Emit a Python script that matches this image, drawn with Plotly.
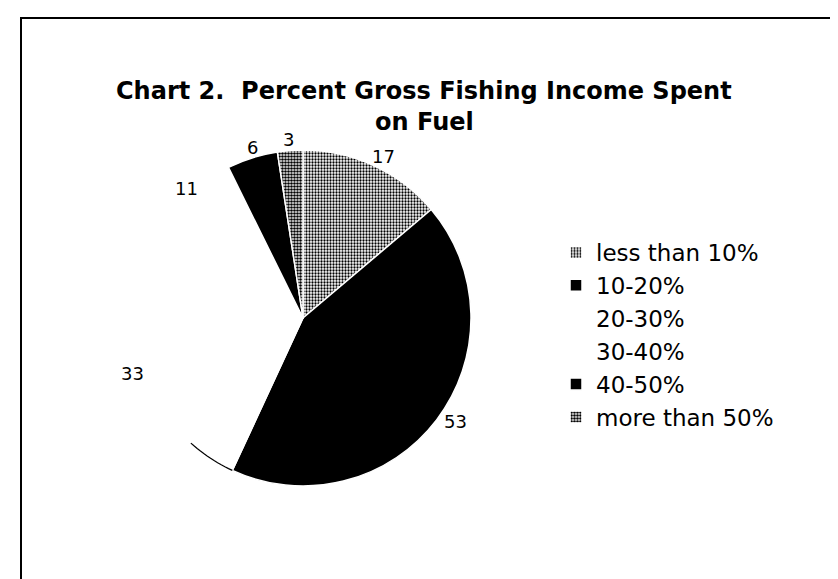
import math
import plotly.graph_objects as go

categories = ["less than 10%", "10-20%", "20-30%", "30-40%", "40-50%", "more than 50%"]
values = [17, 53, 33, 11, 6, 3]
slice_colors = ["white", "black", "white", "white", "black", "white"]
slice_patterns = [".", "", "", "", "", "."]
pattern_solidity = [0.45, 0.3, 0.3, 0.3, 0.3, 0.6]

title_line1 = "Chart 2.&nbsp; Percent Gross Fishing Income Spent"
title_line2 = "on Fuel"

W, H = 838, 579
cx, cy, R = 295, 310, 168  # pie centre and radius in px
label_r = 192

fig = go.Figure()
fig.add_trace(go.Pie(
    labels=categories,
    values=values,
    sort=False,
    direction="clockwise",
    rotation=0,
    textinfo="none",
    hoverinfo="label+value",
    marker=dict(
        colors=slice_colors,
        line=dict(color="white", width=1.5),
        pattern=dict(shape=slice_patterns, fgcolor="black", bgcolor="white",
                     size=3, solidity=pattern_solidity, fillmode="replace"),
    ),
    domain=dict(x=[(cx - R) / W, (cx + R) / W],
                y=[1 - (cy + R) / H, 1 - (cy - R) / H]),
))

# value labels placed outside slices, angles derived from the data
total = sum(values)
cum = 0
bounds = []
for v in values:
    mid = (cum + v / 2) / total * 2 * math.pi
    cum += v
    bounds.append(cum / total * 2 * math.pi)
    px = cx + label_r * math.sin(mid)
    py = cy - label_r * math.cos(mid)
    fig.add_annotation(x=px / W, y=1 - py / H, xref="paper", yref="paper",
                       text=str(v), showarrow=False,
                       font=dict(family="DejaVu Sans", size=18, color="black"))

# short outline arc on the edge of the 20-30% slice, next to the 10-20% slice
a0 = bounds[1]
pts = []
for k in range(13):
    a = a0 + k / 12 * math.radians(17)
    pts.append(((cx + R * math.sin(a)) / W, 1 - (cy - R * math.cos(a)) / H))
path = "M " + " L ".join(f"{x:.5f},{y:.5f}" for x, y in pts)
fig.add_shape(type="path", xref="paper", yref="paper", path=path,
              line=dict(color="black", width=1.2))

fig.add_annotation(x=416 / W, y=1 - 67 / H, xref="paper", yref="paper",
                   text="<b>" + title_line1 + "</b>", showarrow=False,
                   font=dict(family="DejaVu Sans", size=24, color="black"))
fig.add_annotation(x=416 / W, y=1 - 98 / H, xref="paper", yref="paper",
                   text="<b>" + title_line2 + "</b>", showarrow=False,
                   font=dict(family="DejaVu Sans", size=24, color="black"))

fig.add_shape(type="rect", xref="paper", yref="paper",
              x0=13 / W, y0=-0.02, x1=1.02, y1=1 - 10 / H,
              line=dict(color="black", width=2))

fig.update_layout(
    width=W, height=H,
    margin=dict(l=0, r=0, t=0, b=0),
    paper_bgcolor="white", plot_bgcolor="white",
    showlegend=True,
    legend=dict(x=548 / W, y=1 - 223 / H, xanchor="left", yanchor="top",
                font=dict(family="DejaVu Sans", size=23, color="black"),
                bgcolor="rgba(0,0,0,0)", traceorder="normal"),
)

fig.write_html("out.html")
